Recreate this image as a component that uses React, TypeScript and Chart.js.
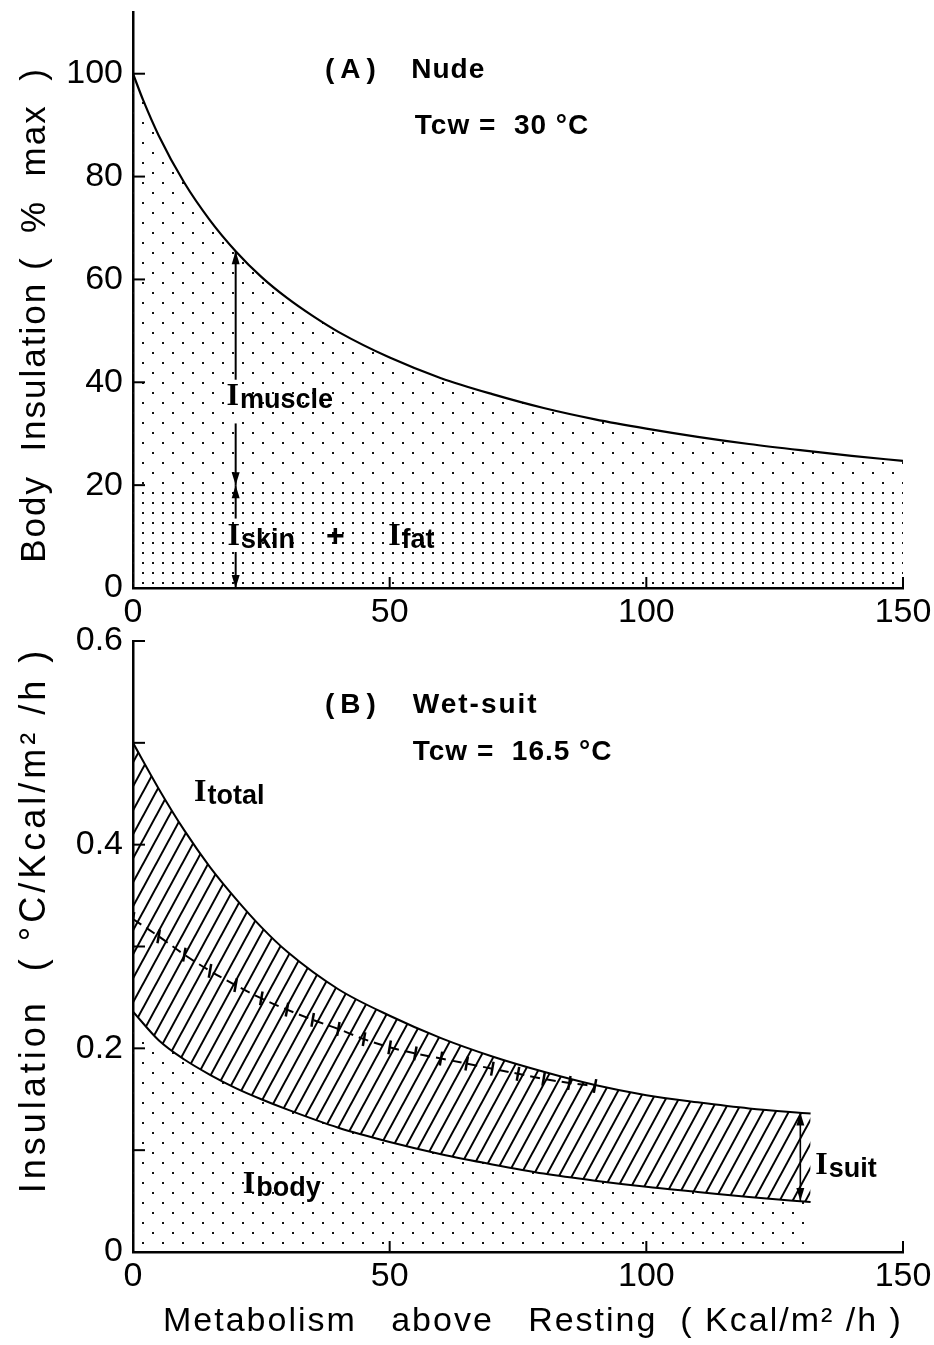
import React, { useEffect, useRef } from 'react';
import { Chart, registerables } from 'chart.js';

Chart.register(...registerables);

// ---------- shared axis ----------
const xTicks = [0, 50, 100, 150];
const xTickLabels = ['0', '50', '100', '150'];

// ---------- Panel A : Nude, Tcw = 30 °C ----------
const metabolismA = [0, 2, 5, 10, 15, 20, 25, 30, 35, 40, 50, 60, 70, 80, 90, 100, 110, 120, 130, 140, 150];
const insulationA = [100, 94.8, 88, 78.8, 71.5, 65.5, 60.5, 56.4, 52.9, 49.8, 44.8, 40.8, 37.7, 35, 32.8, 31, 29.4, 28, 26.8, 25.7, 24.7];
const skinFatMetabolism = [0, 150];
const skinFatA = [20, 20];
const yTicksA = [0, 20, 40, 60, 80, 100];
const yTickLabelsA = ['0', '20', '40', '60', '80', '100'];

// ---------- Panel B : Wet-suit, Tcw = 16.5 °C ----------
const metabolismB = [0, 5, 10, 15, 20, 25, 30, 40, 50, 60, 70, 80, 90, 100, 110, 120, 132];
const totalB = [0.5, 0.455, 0.414, 0.378, 0.347, 0.319, 0.295, 0.258, 0.232, 0.21, 0.192, 0.177, 0.164, 0.154, 0.147, 0.141, 0.136];
const bodyB = [0.236, 0.208, 0.189, 0.174, 0.161, 0.15, 0.14, 0.122, 0.108, 0.096, 0.086, 0.077, 0.07, 0.064, 0.059, 0.054, 0.049];
const dashedMetabolism = [0, 5, 10, 15, 20, 25, 30, 35, 40, 45, 50, 55, 60, 65, 70, 75, 80, 85, 90];
const dashedB = [0.327, 0.31, 0.292, 0.276, 0.262, 0.249, 0.238, 0.228, 0.219, 0.209, 0.201, 0.195, 0.19, 0.185, 0.18, 0.175, 0.17, 0.166, 0.163];
const yTicksB = [0, 0.2, 0.4, 0.6];
const yTickLabelsB = ['0', '0.2', '0.4', '0.6'];
const yMinorTicksB = [0.1, 0.3, 0.5];

const FONT = '"Liberation Sans", Arial, sans-serif';
const SERIF = '"Liberation Serif", "Times New Roman", serif';

const pts = (xs: number[], ys: number[]) => xs.map((x, i) => ({ x, y: ys[i] }));

function dotPattern(size: number, stagger: boolean): CanvasPattern {
  const c = document.createElement('canvas');
  c.width = size;
  c.height = size;
  const g = c.getContext('2d')!;
  g.fillStyle = '#111';
  g.fillRect(2, 2, 2, 2);
  if (stagger) g.fillRect(2 + size / 2, 2 + size / 2, 2, 2);
  return g.createPattern(c, 'repeat')!;
}

function hatchPattern(): CanvasPattern {
  const W = 13, H = 24;
  const c = document.createElement('canvas');
  c.width = W;
  c.height = H;
  const g = c.getContext('2d')!;
  g.strokeStyle = '#000';
  g.lineWidth = 2;
  for (const k of [-1, 0, 1]) {
    g.beginPath();
    g.moveTo(k * W - W, 2 * H);
    g.lineTo(k * W + 2 * W, -H);
    g.stroke();
  }
  return g.createPattern(c, 'repeat')!;
}

function arrow(ctx: CanvasRenderingContext2D, x: number, y0: number, y1: number) {
  ctx.beginPath();
  ctx.moveTo(x, y0);
  ctx.lineTo(x, y1);
  ctx.stroke();
  const dir = y1 < y0 ? -1 : 1;
  ctx.beginPath();
  ctx.moveTo(x, y1);
  ctx.lineTo(x - 4, y1 - dir * 13);
  ctx.lineTo(x + 4, y1 - dir * 13);
  ctx.closePath();
  ctx.fill();
}

function subLabel(ctx: CanvasRenderingContext2D, x: number, yc: number, sub: string) {
  ctx.textAlign = 'left';
  ctx.textBaseline = 'alphabetic';
  ctx.font = `bold 32px ${SERIF}`;
  const base = yc + 10;
  ctx.fillText('I', x, base);
  const w = ctx.measureText('I').width;
  ctx.font = `bold 27px ${FONT}`;
  ctx.fillText(sub, x + w + 1, base + 3);
}

function header(ctx: CanvasRenderingContext2D, text: string, x: number, yc: number, spacing: number) {
  (ctx as any).letterSpacing = `${spacing}px`;
  ctx.font = `bold 28px ${FONT}`;
  ctx.textAlign = 'left';
  ctx.textBaseline = 'middle';
  ctx.fillText(text, x, yc);
  (ctx as any).letterSpacing = '0px';
}

function ticksAndAxes(chart: any, yMajor: number[], yMinor: number[]) {
  const { ctx, chartArea: ca, scales } = chart;
  const sx = scales.x, sy = scales.y;
  ctx.strokeStyle = '#000';
  ctx.lineWidth = 2;
  for (const v of [...yMajor, ...yMinor]) {
    const p = sy.getPixelForValue(v);
    ctx.beginPath();
    ctx.moveTo(ca.left, p);
    ctx.lineTo(ca.left + 12, p);
    ctx.stroke();
  }
  for (const v of xTicks.slice(1)) {
    const p = sx.getPixelForValue(v);
    ctx.beginPath();
    ctx.moveTo(p, ca.bottom);
    ctx.lineTo(p, ca.bottom - 11);
    ctx.stroke();
  }
}

function yTitle(ctx: CanvasRenderingContext2D, text: string, x: number, yc: number, size: number, spacing: number) {
  ctx.save();
  ctx.translate(x, yc);
  ctx.rotate(-Math.PI / 2);
  (ctx as any).letterSpacing = `${spacing}px`;
  ctx.font = `${size}px ${FONT}`;
  ctx.textAlign = 'center';
  ctx.textBaseline = 'middle';
  ctx.fillStyle = '#000';
  ctx.fillText(text, 0, 0);
  (ctx as any).letterSpacing = '0px';
  ctx.restore();
}

const decorA = {
  id: 'decorA',
  afterDraw(chart: any) {
    const { ctx } = chart;
    const sx = chart.scales.x, sy = chart.scales.y;
    const X = (v: number) => sx.getPixelForValue(v);
    const Y = (v: number) => sy.getPixelForValue(v);
    ctx.save();
    ticksAndAxes(chart, yTicksA, []);
    ctx.fillStyle = '#000';
    ctx.lineWidth = 2;
    // I muscle arrow and I skin + I fat arrow at metabolism 20
    const ax = X(20);
    arrow(ctx, ax, Y(40.5), Y(insulationA[5]));
    arrow(ctx, ax, Y(32), Y(skinFatA[0]));
    arrow(ctx, ax, Y(13.5), Y(skinFatA[0]));
    arrow(ctx, ax, Y(7), Y(0));
    header(ctx, '(A)', X(37.4), Y(100.6), 6);
    header(ctx, 'Nude', X(54.2), Y(100.6), 1);
    header(ctx, 'Tcw =  30 °C', X(54.9), Y(89.7), 1);
    subLabel(ctx, X(18.2), Y(37.5), 'muscle');
    subLabel(ctx, X(18.4), Y(10.4), 'skin');
    ctx.font = `bold 32px ${FONT}`;
    ctx.textAlign = 'center';
    ctx.textBaseline = 'middle';
    ctx.fillText('+', X(39.4), Y(9.8));
    subLabel(ctx, X(49.7), Y(10.4), 'fat');
    yTitle(ctx, 'Body  Insulation (  %  max  )', 35, 315, 35, 2);
    ctx.restore();
  },
};

const decorB = {
  id: 'decorB',
  afterDraw(chart: any) {
    const { ctx } = chart;
    const sx = chart.scales.x, sy = chart.scales.y;
    const X = (v: number) => sx.getPixelForValue(v);
    const Y = (v: number) => sy.getPixelForValue(v);
    ctx.save();
    ticksAndAxes(chart, yTicksB, yMinorTicksB);
    ctx.fillStyle = '#000';
    ctx.lineWidth = 1.6;
    const ax = X(130);
    arrow(ctx, ax, Y(0.092), Y(0.137));
    arrow(ctx, ax, Y(0.092), Y(0.05));
    header(ctx, '(B)', X(37.4), Y(0.537), 6);
    header(ctx, 'Wet-suit', X(54.5), Y(0.537), 2);
    header(ctx, 'Tcw =  16.5 °C', X(54.5), Y(0.491), 1);
    subLabel(ctx, X(11.9), Y(0.453), 'total');
    subLabel(ctx, X(21.4), Y(0.068), 'body');
    subLabel(ctx, X(132.9), Y(0.0865), 'suit');
    yTitle(ctx, 'Insulation  ( °C/Kcal/m² /h )', 35, 320, 36, 4);
    (ctx as any).letterSpacing = '2px';
    ctx.font = `34px ${FONT}`;
    ctx.textAlign = 'left';
    ctx.textBaseline = 'middle';
    ctx.fillText('Metabolism   above   Resting  ( Kcal/m² /h )', 163, 722);
    (ctx as any).letterSpacing = '0px';
    ctx.restore();
  },
};

function scalesFor(yMin: number, yMax: number, yTicks: number[], yLabels: string[], xHeight: number) {
  const tickFont = { family: FONT, size: 34 };
  return {
    x: {
      type: 'linear',
      min: 0,
      max: 150,
      afterBuildTicks: (s: any) => {
        s.ticks = xTicks.map((v) => ({ value: v }));
      },
      ticks: {
        color: '#000',
        font: tickFont,
        padding: 4,
        maxRotation: 0,
        autoSkip: false,
        callback: (_v: any, i: number) => xTickLabels[i],
      },
      grid: { display: false, drawTicks: false },
      border: { display: true, color: '#000', width: 2.5 },
      afterFit: (s: any) => {
        s.height = xHeight;
        s.paddingLeft = 0;
        s.paddingRight = 0;
      },
    },
    y: {
      type: 'linear',
      min: yMin,
      max: yMax,
      afterBuildTicks: (s: any) => {
        s.ticks = yTicks.map((v) => ({ value: v }));
      },
      ticks: {
        color: '#000',
        font: tickFont,
        padding: 10,
        autoSkip: false,
        callback: (_v: any, i: number) => yLabels[i],
      },
      grid: { display: false, drawTicks: false },
      border: { display: true, color: '#000', width: 2.5 },
      afterFit: (s: any) => {
        s.width = 133;
        s.paddingTop = 0;
        s.paddingBottom = 0;
      },
    },
  };
}

export default function App() {
  const refA = useRef<HTMLCanvasElement>(null);
  const refB = useRef<HTMLCanvasElement>(null);

  useEffect(() => {
    const sparse = dotPattern(20, true);
    const dense = dotPattern(10, false);
    const sparseB = dotPattern(20, true);
    const hatch = hatchPattern();

    const chartA = new Chart(refA.current!, {
      type: 'line',
      data: {
        datasets: [
          {
            label: 'I skin + I fat',
            data: pts(skinFatMetabolism, skinFatA),
            borderWidth: 0,
            borderColor: 'rgba(0,0,0,0)',
            pointRadius: 0,
            fill: 'origin',
            backgroundColor: dense,
          },
          {
            label: 'Body insulation',
            data: pts(metabolismA, insulationA),
            borderColor: '#000',
            borderWidth: 2.2,
            pointRadius: 0,
            cubicInterpolationMode: 'monotone',
            fill: { target: 0 },
            backgroundColor: sparse,
          },
        ],
      } as any,
      options: {
        animation: false,
        responsive: false,
        devicePixelRatio: 1,
        layout: { padding: { top: 12, right: 31, left: 0, bottom: 0 } },
        plugins: { legend: { display: false }, tooltip: { enabled: false } },
        scales: scalesFor(0, 112, yTicksA, yTickLabelsA, 62) as any,
      },
      plugins: [decorA],
    });

    const chartB = new Chart(refB.current!, {
      type: 'line',
      data: {
        datasets: [
          {
            label: 'I body',
            data: pts(metabolismB, bodyB),
            borderColor: '#000',
            borderWidth: 2,
            pointRadius: 0,
            cubicInterpolationMode: 'monotone',
            fill: 'origin',
            backgroundColor: sparseB,
          },
          {
            label: 'I total',
            data: pts(metabolismB, totalB),
            borderColor: '#000',
            borderWidth: 2,
            pointRadius: 0,
            cubicInterpolationMode: 'monotone',
            fill: { target: 0 },
            backgroundColor: hatch,
          },
          {
            label: 'dashed',
            data: pts(dashedMetabolism, dashedB),
            borderColor: '#000',
            borderWidth: 2,
            borderDash: [10, 6],
            cubicInterpolationMode: 'monotone',
            fill: false,
            pointStyle: 'line',
            pointRadius: 7,
            pointRotation: 100,
            pointBorderWidth: 2.5,
            pointBorderColor: '#000',
          },
        ],
      } as any,
      options: {
        animation: false,
        responsive: false,
        devicePixelRatio: 1,
        layout: { padding: { top: 41, right: 31, left: 0, bottom: 0 } },
        plugins: { legend: { display: false }, tooltip: { enabled: false } },
        scales: scalesFor(0, 0.6, yTicksB, yTickLabelsB, 93) as any,
      },
      plugins: [decorB],
    });

    return () => {
      chartA.destroy();
      chartB.destroy();
    };
  }, []);

  return (
    <div style={{ position: 'absolute', left: 0, top: 0, width: 934, height: 1345, background: '#fff' }}>
      <canvas ref={refA} width={934} height={650} style={{ position: 'absolute', left: 0, top: 0 }} />
      <canvas ref={refB} width={934} height={745} style={{ position: 'absolute', left: 0, top: 600 }} />
    </div>
  );
}
